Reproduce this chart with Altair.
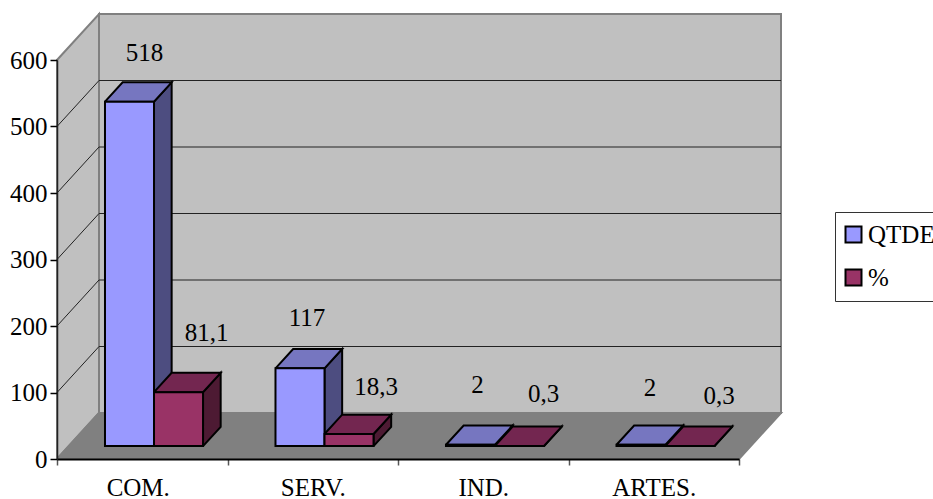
import altair as alt
import pandas as pd

# Chart values
categories = ["COM.", "SERV.", "IND.", "ARTES."]
qtde = [518, 117, 2, 2]
pct = [81.1, 18.3, 0.3, 0.3]
qtde_labels = ["518", "117", "2", "2"]
pct_labels = ["81,1", "18,3", "0,3", "0,3"]
y_ticks = [0, 100, 200, 300, 400, 500, 600]

# Oblique projection: depth 0 is the front plane, depth 1 the back wall
PX_X = 682 / 4          # pixels per category
PX_Y = 399 / 600        # pixels per value unit
SKEW_X = 42 / PX_X
SKEW_Y = 46 / PX_Y
GAP, BAR_W = 0.2125, 0.2875
D0, D1 = 0.28, 0.70

FONT = "Liberation Serif"
FONT_SIZE = 25
SERIES = {
    "QTDE": ("#9999FF", "#7676C0", "#4D4D80"),
    "%": ("#993366", "#732650", "#4D1A33"),
}
# Hand-placed value labels: pixel shift from the centre of each bar's front top edge
LABEL_SHIFT = {
    "QTDE": [(15, -49), (7, -50), (7, -60), (9, -57)],
    "%": [(28, -59), (27, -47), (24, -52), (29, -50)],
}


def project(x, v, d):
    return x + d * SKEW_X, v + d * SKEW_Y


def polygon_rows(face, fill, corners):
    rows = []
    for n, (x, v, d) in enumerate(corners + corners[:1]):
        px, py = project(x, v, d)
        rows.append({"face": face, "fill": fill, "n": n, "x": px, "y": py})
    return rows


# Walls and floor
walls = (
    polygon_rows("side", "wall", [(0, 0, 0), (0, 0, 1), (0, 600, 1), (0, 600, 0)])
    + polygon_rows("back", "wall", [(0, 0, 1), (4, 0, 1), (4, 600, 1), (0, 600, 1)])
    + polygon_rows("floor", "floor", [(0, 0, 0), (4, 0, 0), (4, 0, 1), (0, 0, 1)])
)

# Grid lines run across the side wall and then along the back wall
grid = []
for v in y_ticks[1:-1]:
    for n, (x, d) in enumerate([(0, 0), (0, 1), (4, 1)]):
        px, py = project(x, v, d)
        grid.append({"line": v, "n": n, "x": px, "y": py})

# Bar faces
faces, fronts, labels = [], [], []
for s, (name, values, texts) in enumerate([("QTDE", qtde, qtde_labels), ("%", pct, pct_labels)]):
    for i, v in enumerate(values):
        x0 = i + GAP + s * BAR_W
        x1 = x0 + BAR_W
        tag = f"{name}-{i}"
        faces += polygon_rows(tag + "-side", name + " side",
                              [(x1, 0, D0), (x1, 0, D1), (x1, v, D1), (x1, v, D0)])
        faces += polygon_rows(tag + "-top", name + " top",
                              [(x0, v, D0), (x1, v, D0), (x1, v, D1), (x0, v, D1)])
        fx0, base = project(x0, 0, D0)
        fx1, top = project(x1, v, D0)
        fronts.append({"series": name, "order": s, "x": fx0, "x2": fx1, "y": top, "y2": base})
        sx, sy = LABEL_SHIFT[name][i]
        labels.append({"text": texts[i], "x": (fx0 + fx1) / 2 + sx / PX_X, "y": top - sy / PX_Y})

faces_df = pd.DataFrame(faces)
faces_df["group"] = faces_df["face"].str.split("-").str[0]

fill_domain = ["QTDE", "%", "QTDE top", "QTDE side", "% top", "% side", "wall", "floor"]
fill_range = [SERIES["QTDE"][0], SERIES["%"][0], SERIES["QTDE"][1], SERIES["QTDE"][2],
              SERIES["%"][1], SERIES["%"][2], "#C0C0C0", "#808080"]
fill_scale = alt.Scale(domain=fill_domain, range=fill_range)

x_scale = alt.Scale(domain=[0, 4], nice=False, zero=False)
y_scale = alt.Scale(domain=[0, 600], nice=False, zero=False)

y_axis = alt.Axis(
    values=y_ticks, title=None, labelFont=FONT, labelFontSize=FONT_SIZE, labelColor="black",
    domainColor="#222222", domainWidth=1.5, tickColor="black", tickSize=7,
    tickWidth=1.5, labelPadding=3, grid=False, zindex=1,
)
legend = alt.Legend(
    title=None, orient="none", legendX=778, legendY=152,
    values=["QTDE", "%"], symbolType="square", symbolSize=256,
    symbolStrokeColor="black", symbolStrokeWidth=2, symbolOpacity=1, symbolOffset=-4,
    labelFont=FONT, labelFontSize=FONT_SIZE, labelColor="black", labelLimit=200,
    labelOffset=2, rowPadding=17, padding=10,
    fillColor="white", strokeColor="#333333",
)


def X(field="x"):
    return alt.X(f"{field}:Q", scale=x_scale, axis=None)


def Y(field="y"):
    return alt.Y(f"{field}:Q", scale=y_scale, axis=y_axis, title=None)


def polygons(rows, stroke, width):
    return alt.Chart(pd.DataFrame(rows)).mark_line(
        stroke=stroke, strokeWidth=width, strokeJoin="miter", interpolate="linear"
    ).encode(
        x=X(), y=Y(), detail="face:N", order="n:Q",
        fill=alt.Fill("fill:N", scale=fill_scale, legend=legend),
    )


wall_layer = polygons(walls, "#808080", 2)

grid_layer = alt.Chart(pd.DataFrame(grid)).mark_line(
    stroke="#222222", strokeWidth=1
).encode(x=X(), y=Y(), detail="line:N", order="n:Q")

qtde_faces = polygons(faces_df[faces_df.group == "QTDE"].to_dict("records"), "black", 2)
pct_faces = polygons(faces_df[faces_df.group == "%"].to_dict("records"), "black", 2)

front_layer = alt.Chart(pd.DataFrame(fronts)).mark_rect(
    stroke="black", strokeWidth=2
).encode(
    x=X(), x2="x2:Q", y=Y(), y2="y2:Q",
    fill=alt.Fill("series:N", scale=fill_scale, legend=legend),
)

text_layer = alt.Chart(pd.DataFrame(labels)).mark_text(
    font=FONT, fontSize=FONT_SIZE, color="black", baseline="middle", align="center"
).encode(x=X(), y=Y(), text="text:N")

# Invisible layer that carries the category axis; the first label sits slightly left
axis_df = pd.DataFrame({"category": categories, "value": qtde})
axis_layer = alt.Chart(axis_df).mark_bar(opacity=0).encode(
    x=alt.X(
        "category:N", sort=categories, title=None,
        scale=alt.Scale(paddingInner=0, paddingOuter=0),
        axis=alt.Axis(
            labelAngle=0, tickBand="extent", labelFont=FONT, labelFontSize=FONT_SIZE,
            labelColor="black", domainColor="black", domainWidth=2,
            tickColor="#555555", tickSize=6, tickWidth=1.5, labelPadding=10, zindex=1,
            labelOffset={"condition": {"test": "datum.value === 'COM.'", "value": -4.5}, "value": 0},
        ),
    ),
    y=alt.Y("value:Q", scale=y_scale, title=None, axis=y_axis),
)

chart = (
    alt.layer(axis_layer, wall_layer, grid_layer, qtde_faces, pct_faces, front_layer, text_layer)
    .resolve_scale(x="independent")
    .properties(
        width=682, height=399,
        padding={"left": 57, "top": 60, "right": 194, "bottom": 40},
        autosize=alt.AutoSizeParams(type="none"),
        background="white",
    )
    .configure_view(stroke=None)
)

chart.save("out.html", embed_options={"renderer": "svg", "actions": False})
